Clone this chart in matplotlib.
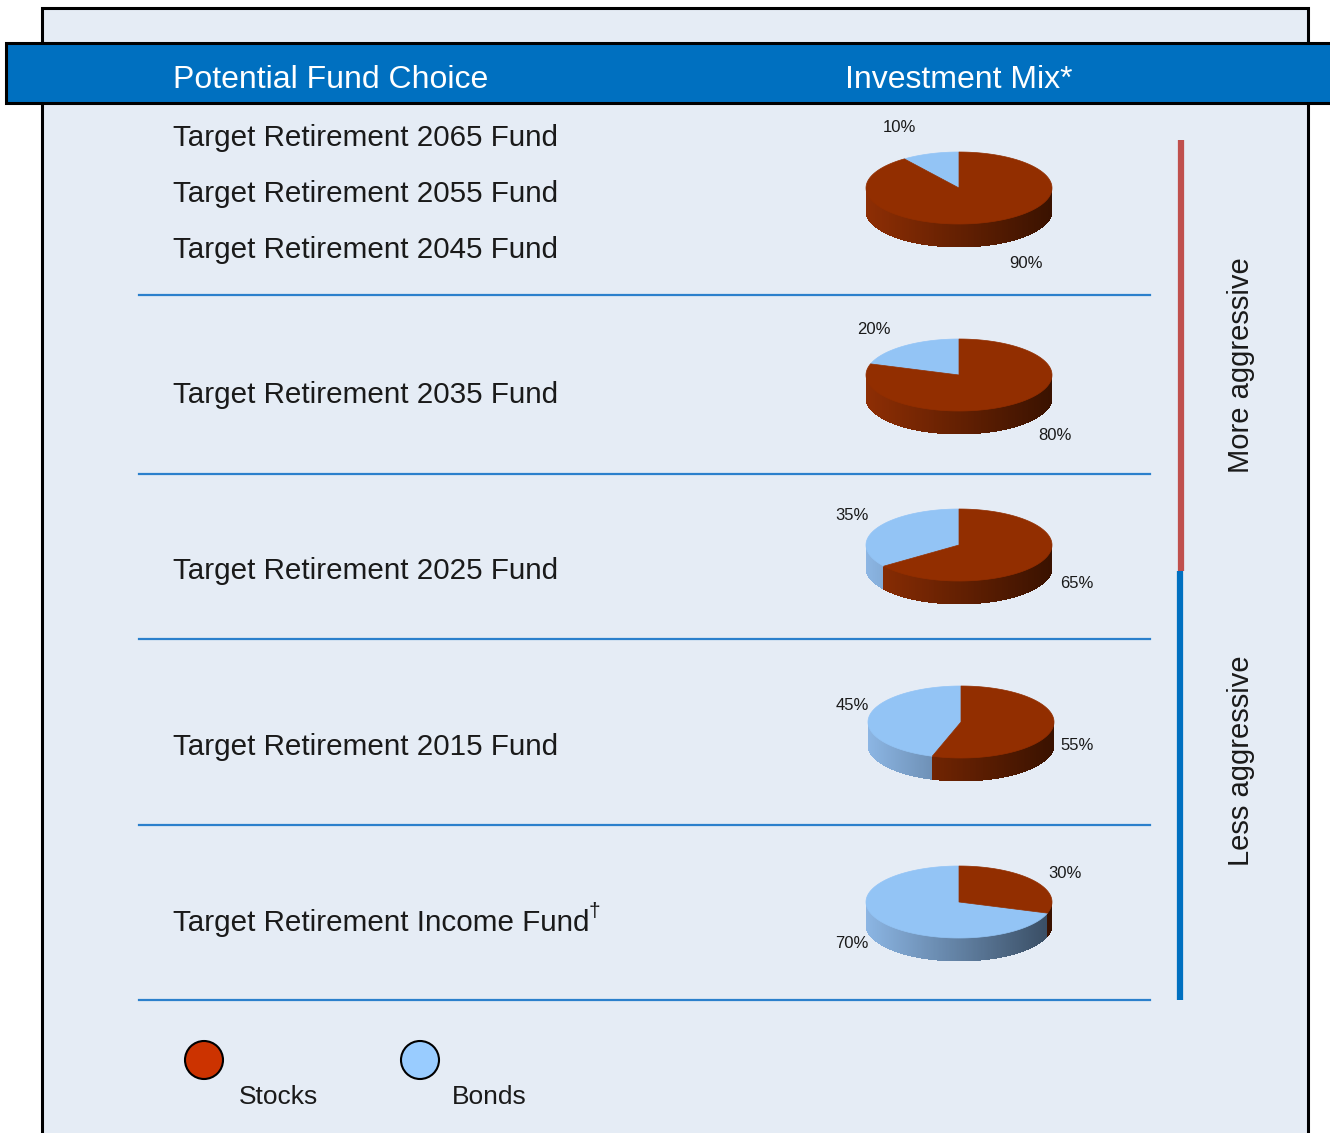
import numpy as np
import matplotlib.pyplot as plt
from matplotlib.patches import Rectangle, Polygon, Circle

plt.rcParams['font.family'] = ['Liberation Sans', 'DejaVu Sans']

# data
fund_names = ['Target Retirement 2065 Fund', 'Target Retirement 2055 Fund',
              'Target Retirement 2045 Fund', 'Target Retirement 2035 Fund',
              'Target Retirement 2025 Fund', 'Target Retirement 2015 Fund',
              'Target Retirement Income Fund']
stocks = [90, 80, 65, 55, 30]
bonds = [10, 20, 35, 45, 70]

# layout (pixel space)
fund_base = [146, 202, 258, 403, 579, 755, 931]
sep_y = [295, 474, 639, 825, 1000]
pie_cy = [188, 375, 545, 722, 902]
pie_cx = [959, 959, 959, 961, 959]
lab_stock = [(1026, 263), (1055, 436), (1077, 584), (1077, 745), (1065, 873)]
lab_bond = [(899, 128), (874, 329), (852, 516), (852, 706), (852, 943)]

A, B, D = 93, 36, 23
stock_top, bond_top = '#922E00', '#93C4F5'
stock_side = (np.array([142, 46, 4]) / 255, np.array([58, 18, 0]) / 255)
bond_side = (np.array([140, 182, 228]) / 255, np.array([56, 76, 98]) / 255)
txt = '#1a1a1a'

fig = plt.figure(figsize=(13.3, 11.33), dpi=100)
ax = fig.add_axes([0, 0, 1, 1])
ax.set_xlim(0, 1330)
ax.set_ylim(1133, 0)
ax.axis('off')

ax.add_patch(Rectangle((42, 8), 1266, 1150, fc='#E5ECF5', ec='black', lw=2.2, zorder=1))
ax.add_patch(Rectangle((6, 43), 1350, 60, fc='#0070C0', ec='black', lw=2.2, zorder=2))
ax.text(173, 88, 'Potential Fund Choice', color='white', fontsize=23, zorder=3)
ax.text(845, 88, 'Investment Mix*', color='white', fontsize=23, zorder=3)

for name, yb in zip(fund_names, fund_base):
    ax.text(173, yb, name, color=txt, fontsize=21.3, zorder=3)
ax.text(594, 911, '\u2020', color=txt, fontsize=15, ha='center', va='center', zorder=3)

for y in sep_y:
    ax.plot([139, 1150], [y, y], color='#2B80CC', lw=1.6, zorder=2)


def pt(cx, cy, ang, dy=0):
    a = np.radians(ang)
    return cx + A * np.cos(a), cy - B * np.sin(a) + dy


for s, b, cx, cy, ls, lb in zip(stocks, bonds, pie_cx, pie_cy, lab_stock, lab_bond):
    split = 90 + 360 * b / 100.0  # bonds: 90 -> split (ccw), stocks: split -> 450
    # side wall (front half, 180..360 deg), shaded left to right
    angs = np.linspace(180, 360, 241)
    for a0, a1 in zip(angs[:-1], angs[1:]):
        mid = (a0 + a1) / 2
        is_bond = (90 <= mid <= split) or (90 <= mid + 360 <= split)
        light, dark = bond_side if is_bond else stock_side
        x0, y0 = pt(cx, cy, a0)
        x1, y1 = pt(cx, cy, a1 + 0.4)
        t = ((x0 + x1) / 2 - (cx - A)) / (2 * A)
        col = light + (dark - light) * t
        ax.add_patch(Polygon([(x0, y0), (x1, y1), (x1, y1 + D), (x0, y0 + D)],
                             closed=True, fc=col, lw=0, antialiased=False, zorder=4))
    # top faces
    for a_start, a_end, col in [(90, split, bond_top), (split, 450, stock_top)]:
        aa = np.linspace(a_start, a_end, 200)
        xs, ys = pt(cx, cy, aa)
        verts = [(cx, cy)] + list(zip(xs, ys))
        ax.add_patch(Polygon(verts, closed=True, fc=col, ec=col, lw=0.5, zorder=5))
    ax.text(ls[0], ls[1], f'{s}%', fontsize=12, color=txt, ha='center', va='center', zorder=6)
    ax.text(lb[0], lb[1], f'{b}%', fontsize=12, color=txt, ha='center', va='center', zorder=6)

# aggressiveness bar
ax.plot([1181, 1181], [140, 571], color='#C0504D', lw=4.5, solid_capstyle='butt', zorder=3)
ax.plot([1180, 1180], [571, 1000], color='#0070C0', lw=4.5, solid_capstyle='butt', zorder=3)
ax.text(1241, 365, 'More aggressive', rotation=90, fontsize=21, color=txt,
        ha='center', va='center', zorder=3)
ax.text(1241, 761, 'Less aggressive', rotation=90, fontsize=21, color=txt,
        ha='center', va='center', zorder=3)

# legend
ax.add_patch(Circle((204, 1060), 19, fc='#CC3300', ec='black', lw=1.5, zorder=3))
ax.add_patch(Circle((420, 1060), 19, fc='#99CCFF', ec='black', lw=1.5, zorder=3))
ax.text(239, 1104, 'Stocks', fontsize=19, color=txt, zorder=3)
ax.text(452, 1104, 'Bonds', fontsize=19, color=txt, zorder=3)

fig.savefig('out.png', dpi=100)
